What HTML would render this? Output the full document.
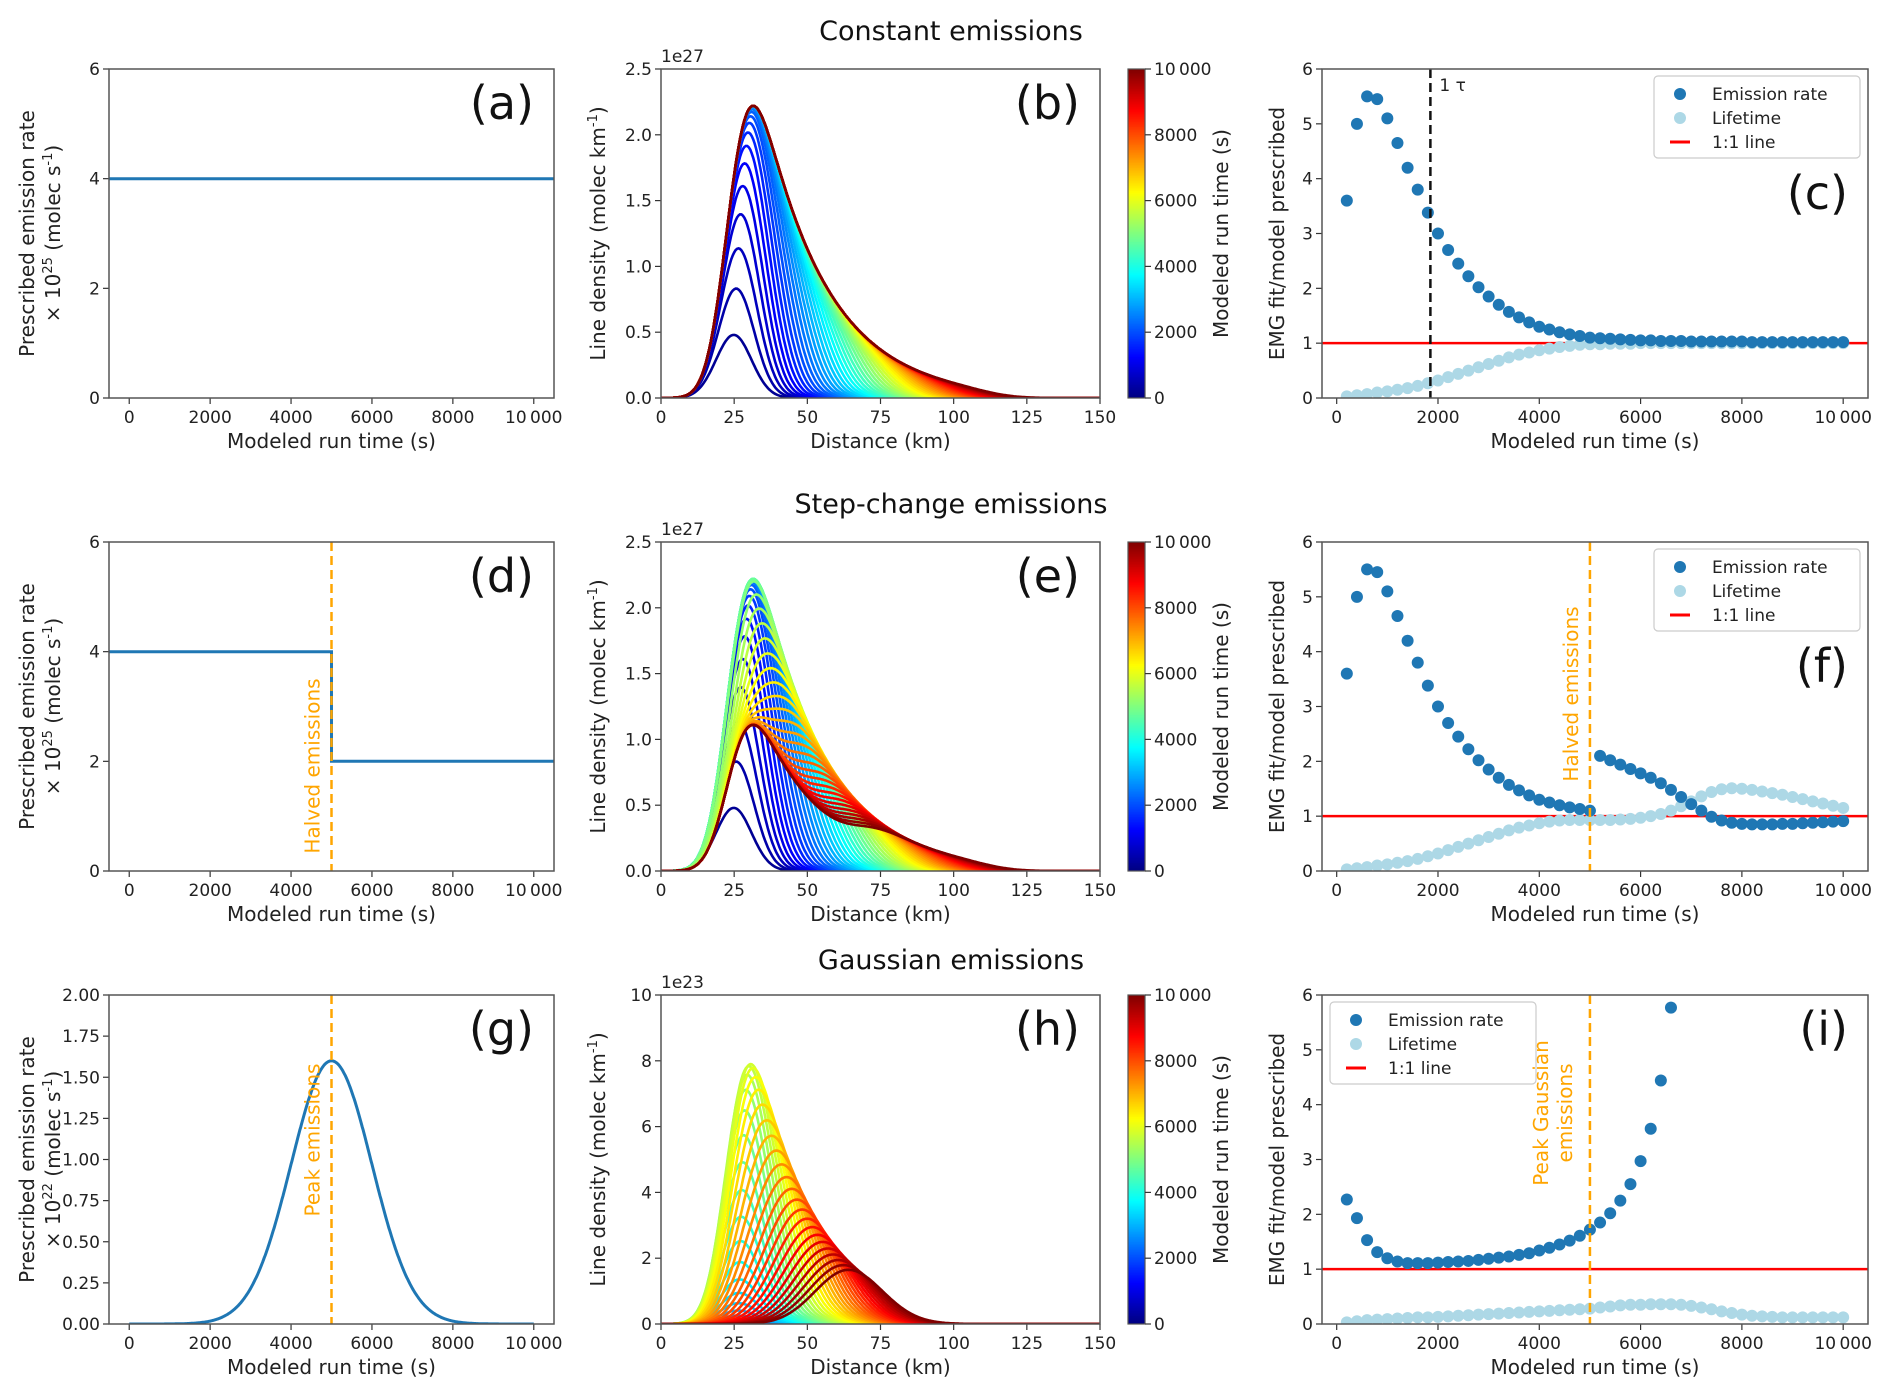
<!DOCTYPE html>
<html><head><meta charset="utf-8"><title>Emission scenarios</title>
<style>
html,body{margin:0;padding:0;background:#fff}
svg{display:block;font-family:"DejaVu Sans","Liberation Sans",sans-serif}
</style></head>
<body>
<svg id="fig" width="1892" height="1400" viewBox="0 0 1892 1400" xmlns="http://www.w3.org/2000/svg">
<defs id="defs"></defs>
</svg>
<script>
// ---------- data ----------
const runTimes = [200,400,600,800,1000,1200,1400,1600,1800,2000,2200,2400,2600,2800,3000,3200,3400,3600,3800,4000,4200,4400,4600,4800,5000,5200,5400,5600,5800,6000,6200,6400,6600,6800,7000,7200,7400,7600,7800,8000,8200,8400,8600,8800,9000,9200,9400,9600,9800,10000];
const constEmis = [3.6,5.0,5.5,5.45,5.1,4.65,4.2,3.8,3.38,3.0,2.7,2.45,2.22,2.02,1.85,1.7,1.57,1.47,1.38,1.3,1.25,1.2,1.16,1.13,1.1,1.09,1.08,1.07,1.06,1.05,1.05,1.04,1.04,1.04,1.03,1.03,1.03,1.03,1.03,1.03,1.02,1.02,1.02,1.02,1.02,1.02,1.02,1.02,1.02,1.02];
const constLife = [0.03,0.05,0.07,0.1,0.12,0.15,0.18,0.22,0.27,0.32,0.38,0.44,0.5,0.56,0.62,0.68,0.74,0.79,0.83,0.87,0.9,0.93,0.95,0.97,0.98,0.98,0.99,0.99,0.99,1.0,1.0,1.0,1.0,1.0,1.0,1.0,1.0,1.0,1.0,1.0,1.0,1.0,1.0,1.0,1.0,1.0,1.0,1.0,1.0,1.0];
const stepEmis = [3.6,5.0,5.5,5.45,5.1,4.65,4.2,3.8,3.38,3.0,2.7,2.45,2.22,2.02,1.85,1.7,1.57,1.47,1.38,1.3,1.25,1.2,1.16,1.13,1.1,2.1,2.02,1.94,1.86,1.78,1.7,1.6,1.48,1.35,1.22,1.1,0.99,0.92,0.88,0.86,0.85,0.85,0.85,0.86,0.86,0.87,0.88,0.89,0.9,0.91];
const stepLife = [0.03,0.05,0.07,0.1,0.12,0.15,0.18,0.22,0.27,0.32,0.38,0.44,0.5,0.56,0.62,0.68,0.74,0.79,0.83,0.87,0.9,0.92,0.93,0.93,0.93,0.93,0.93,0.94,0.95,0.97,1.0,1.04,1.1,1.18,1.27,1.36,1.44,1.49,1.51,1.5,1.48,1.45,1.42,1.39,1.35,1.31,1.27,1.23,1.19,1.15];
const gaussEmis = [2.27,1.93,1.53,1.31,1.2,1.14,1.11,1.11,1.11,1.12,1.13,1.14,1.15,1.17,1.19,1.21,1.23,1.26,1.29,1.34,1.39,1.45,1.52,1.61,1.72,1.85,2.02,2.25,2.55,2.97,3.56,4.44,5.77];
const gaussLife = [0.03,0.05,0.07,0.08,0.09,0.1,0.11,0.12,0.12,0.13,0.14,0.15,0.16,0.17,0.18,0.19,0.2,0.21,0.22,0.23,0.24,0.25,0.26,0.27,0.28,0.3,0.32,0.34,0.35,0.35,0.36,0.36,0.36,0.35,0.33,0.3,0.27,0.23,0.2,0.17,0.15,0.14,0.13,0.12,0.12,0.12,0.12,0.12,0.12,0.12];
const timeTicks = [0,2000,4000,6000,8000,10000];
const timeTickLabels = ["0","2000","4000","6000","8000","10\u2009000"];
const distTicks = [0,25,50,75,100,125,150];
const ratioTicks = [0,1,2,3,4,5,6];
const rateTicks = [0,2,4,6];
const gaussRateTicks = [0,0.25,0.5,0.75,1,1.25,1.5,1.75,2];
const densTicks = [0,0.5,1,1.5,2,2.5];
const densTicksH = [0,2,4,6,8,10];
// emission scenario parameters
const stepTime = [5000];
const stepLevels = [4,2];
const gaussPeak = [1.6];
const gaussCenter = [5000];
const gaussWidth = [1000];

// ---------- helpers ----------
const NS="http://www.w3.org/2000/svg";
const svg=document.getElementById('fig');
function mk(tag,attrs,parent){const e=document.createElementNS(NS,tag);for(const k in attrs)e.setAttribute(k,attrs[k]);(parent||svg).appendChild(e);return e;}
function txt(s,attrs,parent){const e=mk('text',attrs,parent);e.textContent=s;return e;}
function lin(d0,d1,r0,r1){return v=>r0+(v-d0)/(d1-d0)*(r1-r0);}
function jet(t){t=Math.max(0,Math.min(1,t));
 const r=Math.max(0,Math.min(1,Math.min(4*t-1.5,-4*t+4.5)));
 const g=Math.max(0,Math.min(1,Math.min(4*t-0.5,-4*t+3.5)));
 const b=Math.max(0,Math.min(1,Math.min(4*t+0.5,-4*t+2.5)));
 return `rgb(${Math.round(r*255)},${Math.round(g*255)},${Math.round(b*255)})`;}

const cols={a:109,b:661,c:1322}, widths={a:445,b:439,c:546};
const rows=[69,542,995], H=329;

function axes(name,x0,y0,w,h,xd,yd,xt,xtl,yt,ytl){
 const g=mk('g',{},svg);
 
 
 const sx=lin(xd[0],xd[1],x0,x0+w), sy=lin(yd[0],yd[1],y0+h,y0);
 const clip=mk('clipPath',{id:'clip-'+name},document.getElementById('defs'));
 mk('rect',{x:x0,y:y0,width:w,height:h},clip);
 const plot=mk('g',{'clip-path':`url(#clip-${name})`},g);
 const tk=mk('g',{},g);
 
 
 xt.forEach((v,i)=>{const X=sx(v);mk('line',{x1:X,x2:X,y1:y0+h,y2:y0+h+6,stroke:'#333','stroke-width':1.2},tk);
  txt(xtl[i],{x:X,y:y0+h+25,'font-size':17,'text-anchor':'middle',fill:'#222'},tk);});
 const tky=mk('g',{},g);
 
 
 yt.forEach((v,i)=>{const Y=sy(v);mk('line',{x1:x0-6,x2:x0,y1:Y,y2:Y,stroke:'#333','stroke-width':1.2},tky);
  txt(ytl[i],{x:x0-9,y:Y+6,'font-size':17,'text-anchor':'end',fill:'#222'},tky);});
 const fr=mk('rect',{x:x0,y:y0,width:w,height:h,fill:'none',stroke:'#555','stroke-width':1.5},g);
 
 
 return {g,plot,sx,sy,x0,y0,w,h,frame:fr};
}
function xlabel(a,s){const t=txt(s,{x:a.x0+a.w/2,y:a.y0+a.h+50,'font-size':20,'text-anchor':'middle',fill:'#222'},a.g);
 }
function ylabelRaw(a,x,html){const cy=a.y0+a.h/2;const t=mk('text',{x:x,y:cy,transform:`rotate(-90 ${x} ${cy})`,'font-size':20,'text-anchor':'middle',fill:'#222'},a.g);
 t.innerHTML=html;}
function panelLabel(a,s,dy){const t=txt(s,{x:a.x0+a.w-20,y:a.y0+(dy||50),'font-size':46,'text-anchor':'end',fill:'#111'},a.g);
 }
function frameTop(a){a.g.appendChild(a.frame);}
function title(s,y){const t=txt(s,{x:951,y:y,'font-size':27,'text-anchor':'middle',fill:'#111'});
 }

title('Constant emissions',40);
title('Step-change emissions',513);
title('Gaussian emissions',969);

// ---------- emission functions ----------
function Econst(t){return stepLevels[0];}
function Estep(t){return t<stepTime[0]?stepLevels[0]:stepLevels[1];}
function Egauss(t){return gaussPeak[0]*Math.exp(-0.5*Math.pow((t-gaussCenter[0])/gaussWidth[0],2));}

// ---------- left column ----------
function emisPanel(name,row,E,yd,yt,ytl,power,lbl,t0,t1){
 const a=axes(name,cols.a,rows[row],widths.a,H,[-500,10500],yd,timeTicks,timeTickLabels,yt,ytl);
 let d='';for(let t=t0;t<=t1;t+=20){const v=(name==='panel-d'&&t===5000)?stepLevels[0]:E(t);d+=(d?'L':'M')+a.sx(t).toFixed(1)+','+a.sy(v).toFixed(1);
  if(name==='panel-d'&&t===5000)d+='L'+a.sx(t).toFixed(1)+','+a.sy(stepLevels[1]).toFixed(1);}
 const p=mk('path',{d:d,fill:'none',stroke:'#1f77b4','stroke-width':3},a.plot);
 
 xlabel(a,'Modeled run time (s)');
 const x1=34,x2=60,cy=a.y0+a.h/2;
 const ta=txt('Prescribed emission rate',{x:x1,y:cy,transform:`rotate(-90 ${x1} ${cy})`,'font-size':20,'text-anchor':'middle',fill:'#222'},a.g);
 
 const tb=mk('text',{x:x2,y:cy,transform:`rotate(-90 ${x2} ${cy})`,'font-size':20,'text-anchor':'middle',fill:'#222'},a.g);
 tb.innerHTML=`× 10<tspan font-size="13" dy="-8">${power}</tspan><tspan dy="8"> (molec s</tspan><tspan font-size="13" dy="-8">-1</tspan><tspan dy="8">)</tspan>`;
 
 panelLabel(a,lbl);
 return a;
}
emisPanel('panel-a',0,Econst,[0,6],rateTicks,rateTicks.map(String),'25','(a)',-600,10600);
const ad=emisPanel('panel-d',1,Estep,[0,6],rateTicks,rateTicks.map(String),'25','(d)',-600,10600);
const ag=emisPanel('panel-g',2,Egauss,[0,2],gaussRateTicks,gaussRateTicks.map(v=>v.toFixed(2)),'22','(g)',0,10000);
function vmark(a,x,color,dash,name){const l=mk('line',{x1:a.sx(x),x2:a.sx(x),y1:a.y0,y2:a.y0+a.h,stroke:color,'stroke-width':2.5,'stroke-dasharray':dash},a.plot);
 }
function rotText(a,s,x,y,color,name){const t=txt(s,{x:x,y:y,transform:`rotate(-90 ${x} ${y})`,'font-size':20,'text-anchor':'middle',fill:color},a.g);
 }
vmark(ad,5000,'#ffa500','9,5','halved-marker');
rotText(ad,'Halved emissions',ad.sx(5000)-12,ad.y0+224,'#ffa500','halved-label');
vmark(ag,5000,'#ffa500','9,5','peak-marker');
rotText(ag,'Peak emissions',ag.sx(5000)-12,ag.y0+145,'#ffa500','peak-label');

// ---------- middle column: plume line densities ----------
const x0km=24, sigKm=6, windKmS=0.0088, tauS=2500;
function densities(E){
 const out=[];
 for(const t of runTimes){const ys=[];
  for(let x=0;x<=150;x+=0.5){let s=0;
   for(let a=0;a<=t;a+=40){const sg=Math.sqrt(sigKm*sigKm+0.004*a);const c=x0km+windKmS*a;const z=(x-c)/sg;
    s+=E(t-a)*Math.exp(-a/tauS)*Math.exp(-0.5*z*z)/sg;}
   ys.push(s);}
  out.push(ys);}
 return out;
}
function densPanel(name,row,E,ymax,yt,ytl,offset,peak,lbl){
 const a=axes(name,cols.b,rows[row],widths.b,H,[0,150],[0,ymax],distTicks,distTicks.map(String),yt,ytl);
 const D=densities(E);let mx=0;D.forEach(r=>r.forEach(v=>mx=Math.max(mx,v)));
 const k=peak/mx;
 D.forEach((r,i)=>{let d='';r.forEach((v,j)=>{d+=(j?'L':'M')+a.sx(j*0.5).toFixed(1)+','+a.sy(v*k).toFixed(1);});
  const p=mk('path',{d:d,fill:'none',stroke:jet(runTimes[i]/10000),'stroke-width':2.6},a.plot);
  });
 xlabel(a,'Distance (km)');
 ylabelRaw(a,605,'Line density (molec km<tspan font-size="13" dy="-8">-1</tspan><tspan dy="8">)</tspan>');
 const o=txt(offset,{x:a.x0,y:a.y0-7,'font-size':17,fill:'#222'},a.g);
 
 panelLabel(a,lbl);frameTop(a);
 // colorbar
 const cx=1128,cw=17;
 const cb=mk('g',{},svg);
 
 
 const sy=lin(0,10000,a.y0+a.h,a.y0);
 for(let t=0;t<10000;t+=50){mk('rect',{x:cx,y:sy(t+50)-0.3,width:cw,height:sy(t)-sy(t+50)+0.6,fill:jet((t+25)/10000)},cb);}
 mk('rect',{x:cx,y:a.y0,width:cw,height:a.h,fill:'none',stroke:'#555','stroke-width':1.2},cb);
 timeTicks.forEach((v,i)=>{mk('line',{x1:cx+cw,x2:cx+cw+6,y1:sy(v),y2:sy(v),stroke:'#333','stroke-width':1.2},cb);
  txt(timeTickLabels[i],{x:cx+cw+9,y:sy(v)+6,'font-size':17,fill:'#222'},cb);});
 const lx=1228,ly=a.y0+a.h/2;
 const cl=txt('Modeled run time (s)',{x:lx,y:ly,transform:`rotate(-90 ${lx} ${ly})`,'font-size':20,'text-anchor':'middle',fill:'#222'},cb);
 
}
densPanel('panel-b',0,Econst,2.5,densTicks,densTicks.map(v=>v.toFixed(1)),'1e27',2.22,'(b)');
densPanel('panel-e',1,Estep,2.5,densTicks,densTicks.map(v=>v.toFixed(1)),'1e27',2.22,'(e)');
densPanel('panel-h',2,Egauss,10,densTicksH,densTicksH.map(String),'1e23',7.9,'(h)');

// ---------- right column: EMG fit ratios ----------
function ratioPanel(name,row,emis,life,lbl,legendLeft){
 const a=axes(name,cols.c,rows[row],widths.c,H,[-290,10490],[0,6],timeTicks,timeTickLabels,ratioTicks,ratioTicks.map(String));
 const rl=mk('line',{x1:a.x0,x2:a.x0+a.w,y1:a.sy(1),y2:a.sy(1),stroke:'red','stroke-width':2.5},a.plot);
 
 life.forEach((v,i)=>{const c=mk('circle',{cx:a.sx(runTimes[i]),cy:a.sy(v),r:6,fill:'#add8e6'},a.plot);
  });
 emis.forEach((v,i)=>{const c=mk('circle',{cx:a.sx(runTimes[i]),cy:a.sy(v),r:6,fill:'#1f77b4'},a.plot);
  });
 xlabel(a,'Modeled run time (s)');
 ylabelRaw(a,1284,'EMG fit/model prescribed');
 panelLabel(a,lbl,legendLeft?50:140);
 const lx=legendLeft?a.x0+8:a.x0+a.w-214, ly=a.y0+7;
 const lg=mk('g',{},a.g);
 
 mk('rect',{x:lx,y:ly,width:206,height:82,rx:4,fill:'#fff','fill-opacity':0.85,stroke:'#ccc','stroke-width':1.2},lg);
 const items=[['Emission rate','#1f77b4','dot'],['Lifetime','#add8e6','dot'],['1:1 line','red','line']];
 items.forEach((it,i)=>{const y=ly+18+i*24;const e=mk('g',{},lg);
  
  if(it[2]==='dot')mk('circle',{cx:lx+26,cy:y,r:6,fill:it[1]},e);
  else mk('line',{x1:lx+16,x2:lx+36,y1:y,y2:y,stroke:it[1],'stroke-width':3},e);
  txt(it[0],{x:lx+58,y:y+6,'font-size':17,fill:'#222'},e);});
 return a;
}
const ac=ratioPanel('panel-c',0,constEmis,constLife,'(c)',false);
vmark(ac,1850,'#111','9,5','one-tau-marker');
const tt=txt('1 τ',{x:ac.sx(1850)+9,y:ac.y0+22,'font-size':17,fill:'#222'},ac.g);

const af=ratioPanel('panel-f',1,stepEmis,stepLife,'(f)',false);
vmark(af,5000,'#ffa500','9,5','halved-marker');
rotText(af,'Halved emissions',af.sx(5000)-12,af.y0+152,'#ffa500','halved-label');
const ai=ratioPanel('panel-i',2,gaussEmis,gaussLife,'(i)',true);
vmark(ai,5000,'#ffa500','9,5','peak-marker');
rotText(ai,'Peak Gaussian',ai.sx(5000)-42,ai.y0+118,'#ffa500','peak-label');
rotText(ai,'emissions',ai.sx(5000)-18,ai.y0+118,'#ffa500','peak-label-2');
</script>
</body></html>
